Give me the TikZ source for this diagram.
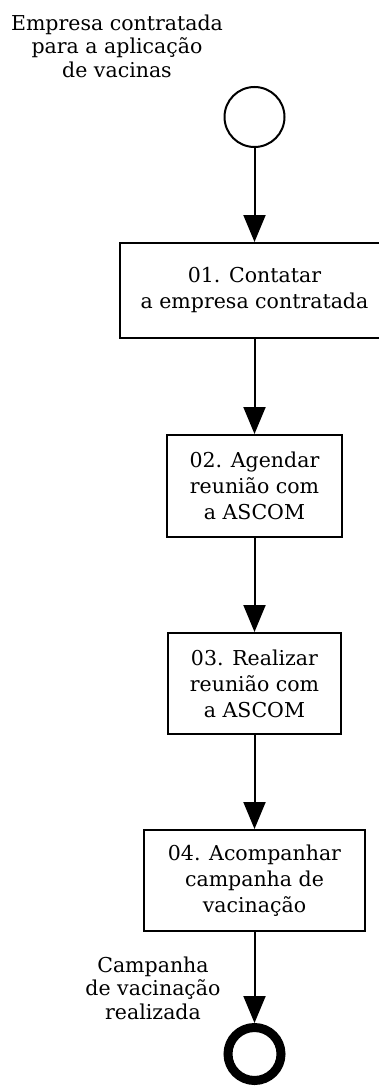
\documentclass[tikz,border=0pt]{standalone}
\usepackage{fontspec}
\setmainfont{DejaVu Serif}
\usetikzlibrary{arrows.meta}

\begin{document}
\begin{tikzpicture}[x=1pt,y=-1pt,line width=2pt,
    font=\fontsize{20.5}{26}\selectfont,
    tarefa/.style={draw,rectangle,align=center,inner sep=0pt},
    rotulo/.style={align=center,font=\fontsize{20.5}{23.5}\selectfont},
    fluxo/.style={-{Triangle[length=27pt,width=22pt]}}]
                \useasboundingbox (0,0) rectangle (379,1086);
                \node[draw,circle,minimum size=60pt,inner sep=0pt] (inicio) at (254.5,117) {};
                \node[tarefa,minimum width=270pt,minimum height=95pt] (t1) at (254.5,290.5) {01. Contatar\\a empresa contratada};
                \node[tarefa,minimum width=175pt,minimum height=102pt] (t2) at (254.5,486) {02. Agendar\\reunião com\\a ASCOM};
                \node[tarefa,minimum width=173pt,minimum height=101pt] (t3) at (254.5,683.5) {03. Realizar\\reunião com\\a ASCOM};
                \node[tarefa,minimum width=221pt,minimum height=101pt] (t4) at (254.5,880.5) {04. Acompanhar\\campanha de\\vacinação};
                \node[draw,circle,line width=9pt,minimum size=53pt,inner sep=0pt] (fim) at (254.5,1054) {};
                \node[rotulo] (rinicio) at (117,46) {Empresa contratada\\para a aplicação\\de vacinas};
                \node[rotulo] (rfim) at (153,988) {Campanha\\de vacinação\\realizada};
                \draw[fluxo] (inicio) -- (t1);
                \draw[fluxo] (t1) -- (t2);
                \draw[fluxo] (t2) -- (t3);
                \draw[fluxo] (t3) -- (t4);
                \draw[fluxo] (t4) -- (fim);
\end{tikzpicture}
\end{document}
